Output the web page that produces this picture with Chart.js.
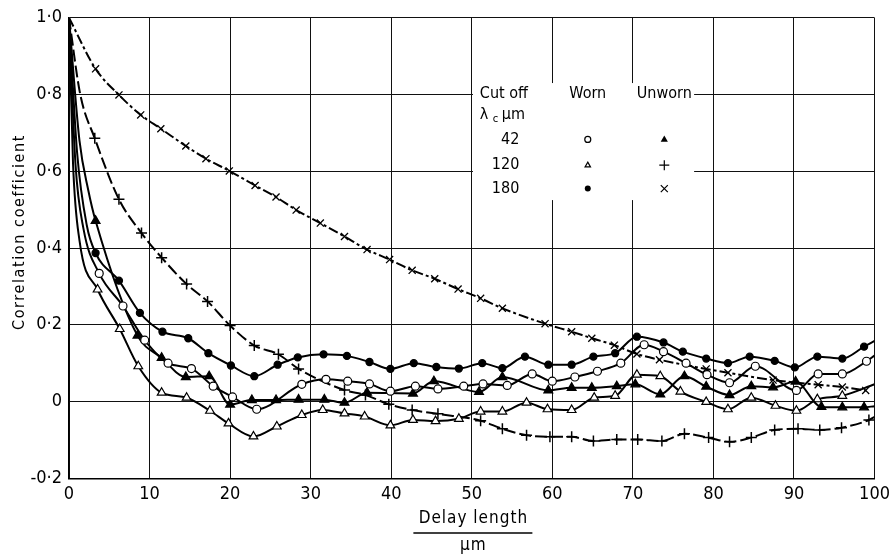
<!DOCTYPE html>
<html>
<head>
<meta charset="utf-8">
<script src="https://cdn.jsdelivr.net/npm/chart.js@4.4.0/dist/chart.umd.min.js"></script>
<style>
  html, body { margin: 0; padding: 0; background: #fff; }
  #wrap { width: 895px; height: 555px; }
</style>
</head>
<body>
<div id="wrap"><canvas id="corrChart" width="895" height="555"></canvas></div>
<script>
// marked points (delay length in um, correlation coefficient)
const worn42X = [3.75, 6.7, 9.4, 12.3, 15.2, 17.9, 20.3, 23.3, 28.9, 31.9, 34.6, 37.3, 39.9, 43.0, 45.8, 49.0, 51.4, 54.4, 57.5, 60.0, 62.8, 65.6, 68.5, 71.4, 73.8, 76.6, 79.2, 82.0, 85.2, 90.3, 93.0, 96.0, 99.0];
const worn42Y = [0.334, 0.249, 0.160, 0.100, 0.086, 0.040, 0.012, -0.020, 0.045, 0.058, 0.053, 0.046, 0.027, 0.040, 0.033, 0.040, 0.046, 0.042, 0.072, 0.053, 0.064, 0.079, 0.100, 0.148, 0.130, 0.100, 0.070, 0.049, 0.092, 0.029, 0.072, 0.072, 0.105];

const unworn42X = [3.3, 8.5, 11.5, 14.5, 17.4, 20.0, 22.7, 25.7, 28.5, 31.7, 34.2, 37.0, 42.7, 45.3, 50.9, 53.8, 59.5, 62.4, 64.9, 68.0, 70.3, 73.4, 76.4, 79.1, 82.0, 84.7, 87.4, 90.2, 93.4, 96.0, 98.7];
const unworn42Y = [0.471, 0.172, 0.114, 0.064, 0.066, -0.008, 0.004, 0.004, 0.005, 0.005, -0.003, 0.023, 0.021, 0.053, 0.025, 0.064, 0.029, 0.036, 0.036, 0.040, 0.045, 0.019, 0.066, 0.039, 0.017, 0.040, 0.037, 0.052, -0.014, -0.015, -0.015];

const worn120X = [3.55, 6.3, 8.6, 11.5, 14.6, 17.5, 19.8, 22.9, 25.8, 28.9, 31.5, 34.2, 36.7, 39.9, 42.7, 45.5, 48.4, 51.1, 53.8, 56.8, 59.4, 62.4, 65.2, 67.8, 70.5, 73.4, 75.9, 79.1, 81.8, 84.7, 87.7, 90.3, 92.9, 96.0];
const worn120Y = [0.292, 0.189, 0.092, 0.023, 0.010, -0.024, -0.057, -0.091, -0.065, -0.035, -0.022, -0.031, -0.039, -0.062, -0.048, -0.051, -0.045, -0.026, -0.026, -0.003, -0.020, -0.022, 0.010, 0.015, 0.070, 0.066, 0.026, -0.001, -0.020, 0.010, -0.011, -0.024, 0.006, 0.015];

const unworn120X = [3.2, 6.2, 9.0, 11.5, 14.6, 17.2, 20.0, 23.0, 26.0, 28.5, 34.2, 36.8, 39.7, 42.6, 45.8, 51.1, 53.8, 56.8, 59.7, 62.4, 65.1, 68.0, 70.6, 73.6, 76.4, 79.4, 82.0, 84.7, 87.6, 90.5, 93.2, 95.9, 99.3];
const unworn120Y = [0.686, 0.527, 0.439, 0.375, 0.306, 0.261, 0.198, 0.146, 0.123, 0.085, 0.030, 0.017, -0.007, -0.022, -0.032, -0.050, -0.071, -0.088, -0.092, -0.092, -0.103, -0.099, -0.099, -0.103, -0.084, -0.094, -0.105, -0.094, -0.074, -0.071, -0.074, -0.068, -0.048];

const worn180X = [3.3, 6.2, 8.8, 11.6, 14.8, 17.3, 20.1, 23.0, 25.9, 28.4, 31.6, 34.5, 37.3, 39.9, 42.8, 45.6, 48.4, 51.3, 53.8, 56.6, 59.5, 62.4, 65.1, 67.8, 70.5, 73.8, 76.2, 79.1, 81.8, 84.5, 87.6, 90.1, 92.9, 96.0, 98.7];
const worn180Y = [0.387, 0.315, 0.231, 0.182, 0.165, 0.126, 0.094, 0.066, 0.096, 0.115, 0.123, 0.119, 0.103, 0.085, 0.100, 0.090, 0.086, 0.100, 0.087, 0.117, 0.096, 0.096, 0.117, 0.126, 0.169, 0.154, 0.130, 0.112, 0.100, 0.117, 0.106, 0.089, 0.117, 0.112, 0.143];

const unworn180X = [3.3, 6.2, 8.9, 11.4, 14.5, 17.0, 19.9, 23.1, 25.7, 28.2, 31.2, 34.2, 37.0, 39.8, 42.6, 45.4, 48.3, 51.1, 53.8, 59.1, 62.4, 64.9, 67.7, 70.5, 73.3, 79.1, 81.8, 87.4, 93.0, 96.0, 98.9];
const unworn180Y = [0.867, 0.799, 0.747, 0.711, 0.666, 0.633, 0.601, 0.563, 0.533, 0.499, 0.465, 0.430, 0.396, 0.370, 0.342, 0.320, 0.293, 0.269, 0.243, 0.203, 0.182, 0.165, 0.147, 0.124, 0.109, 0.085, 0.075, 0.056, 0.044, 0.038, 0.029];

// unmarked points (common start at 1.0, steep initial drop, right edge)
const worn42TraceX = [0, 0.8, 1.8, 100];
const worn42TraceY = [1.0, 0.62, 0.45, 0.12];
const unworn42TraceX = [0, 1.3, 2.4, 100];
const unworn42TraceY = [1.0, 0.68, 0.55, -0.012];
const worn120TraceX = [0, 0.5, 1.3, 100];
const worn120TraceY = [1.0, 0.62, 0.42, 0.045];
const unworn120TraceX = [0, 1.4, 100];
const unworn120TraceY = [1.0, 0.80, -0.04];
const worn180TraceX = [0, 1.0, 2.2, 100];
const worn180TraceY = [1.0, 0.65, 0.46, 0.158];
const unworn180TraceX = [0];
const unworn180TraceY = [1.0];

const cutOffs = ['42', '120', '180'];
const yTicks = [-0.2, 0, 0.2, 0.4, 0.6, 0.8, 1.0];

const TICK_FONT = '"Liberation Sans Narrow", "DejaVu Sans Condensed", "Liberation Sans", sans-serif';

function pts(xs, ys, tx, ty) {
    const out = xs.map((x, i) => ({ x: x, y: ys[i], m: true }));
    tx.forEach((x, i) => out.push({ x: x, y: ty[i], m: false }));
    out.sort((a, b) => a.x - b.x);
    return out;
}

function series(label, data, style, filled, r, dash, bw) {
    return {
        label: label,
        data: data,
        borderColor: '#000',
        borderWidth: 2,
        borderDash: dash || [],
        cubicInterpolationMode: 'monotone',
        pointStyle: style,
        pointBackgroundColor: filled ? '#000' : '#fff',
        pointBorderColor: '#000',
        pointBorderWidth: bw || 1.3,
        pointRadius: ctx => (ctx.raw && ctx.raw.m ? r : 0),
        pointHoverRadius: ctx => (ctx.raw && ctx.raw.m ? r : 0),
        fill: false
    };
}

// little marker shapes for the key table
function mark(ctx, kind, x, y, r) {
    ctx.save();
    ctx.strokeStyle = '#000';
    ctx.fillStyle = '#000';
    ctx.lineWidth = 1.2;
    ctx.beginPath();
    if (kind === 'circleOpen' || kind === 'circleFill') {
        ctx.arc(x, y, r, 0, Math.PI * 2);
        if (kind === 'circleFill') ctx.fill(); else ctx.stroke();
    } else if (kind === 'triOpen' || kind === 'triFill') {
        ctx.moveTo(x, y - r);
        ctx.lineTo(x + r * 0.9, y + r * 0.6);
        ctx.lineTo(x - r * 0.9, y + r * 0.6);
        ctx.closePath();
        if (kind === 'triFill') ctx.fill(); else ctx.stroke();
    } else if (kind === 'plus') {
        ctx.moveTo(x - r, y); ctx.lineTo(x + r, y);
        ctx.moveTo(x, y - r); ctx.lineTo(x, y + r);
        ctx.stroke();
    } else if (kind === 'cross') {
        ctx.moveTo(x - r * 0.7, y - r * 0.7); ctx.lineTo(x + r * 0.7, y + r * 0.7);
        ctx.moveTo(x + r * 0.7, y - r * 0.7); ctx.lineTo(x - r * 0.7, y + r * 0.7);
        ctx.stroke();
    }
    ctx.restore();
}

const keyTable = {
    id: 'keyTable',
    beforeDatasetsDraw(chart) {
        const ctx = chart.ctx;
        const xs = chart.scales.x, ys = chart.scales.y;
        const left = xs.getPixelForValue(50.15), right = xs.getPixelForValue(77.6);
        const top = ys.getPixelForValue(0.83), bottom = ys.getPixelForValue(0.525);
        ctx.save();
        ctx.fillStyle = '#fff';
        ctx.fillRect(left, top, right - left, bottom - top);
        ctx.fillStyle = '#000';
        ctx.textBaseline = 'middle';
        ctx.font = '16px ' + TICK_FONT;
        const colText = xs.getPixelForValue(51.0);
        const colWorn = xs.getPixelForValue(64.4);
        const colUnworn = xs.getPixelForValue(73.9);
        const rowHead = ys.getPixelForValue(0.801);
        ctx.textAlign = 'left';
        ctx.fillText('Cut off', colText, rowHead);
        const row2 = ys.getPixelForValue(0.747);
        ctx.fillText('λ', colText, row2);
        ctx.font = '11px ' + TICK_FONT;
        ctx.fillText('c', colText + 13, row2 + 4);
        ctx.font = '16px ' + TICK_FONT;
        ctx.fillText('μm', colText + 22, row2);
        ctx.textAlign = 'center';
        ctx.fillText('Worn', colWorn, rowHead);
        ctx.fillText('Unworn', colUnworn, rowHead);
        const rows = [0.683, 0.616, 0.555];
        const wornMarks = ['circleOpen', 'triOpen', 'circleFill'];
        const unwornMarks = ['triFill', 'plus', 'cross'];
        ctx.textAlign = 'right';
        rows.forEach((v, i) => {
            const y = ys.getPixelForValue(v);
            ctx.fillText(cutOffs[i], xs.getPixelForValue(55.9), y);
            mark(ctx, wornMarks[i], colWorn, y, 3);
            mark(ctx, unwornMarks[i], colUnworn, y, i === 0 ? 4 : 5);
        });
        ctx.restore();
    },
    afterDraw(chart) {
        const ctx = chart.ctx;
        const area = chart.chartArea;
        ctx.save();
        ctx.fillStyle = '#000';
        // y axis title
        ctx.translate(20, 232);
        ctx.rotate(-Math.PI / 2);
        ctx.font = '16px ' + TICK_FONT;
        ctx.letterSpacing = '1.6px';
        ctx.textAlign = 'center';
        ctx.textBaseline = 'middle';
        ctx.fillText('Correlation coefficient', 0, 0);
        ctx.restore();
        // x axis title as a fraction
        ctx.save();
        ctx.fillStyle = '#000';
        ctx.strokeStyle = '#000';
        ctx.font = '17px ' + TICK_FONT;
        ctx.letterSpacing = '1px';
        ctx.textAlign = 'center';
        ctx.textBaseline = 'middle';
        const cx = chart.scales.x.getPixelForValue(50.2);
        ctx.fillText('Delay length', cx, 519);
        ctx.lineWidth = 1.6;
        ctx.beginPath();
        ctx.moveTo(cx - 60, 533);
        ctx.lineTo(cx + 59, 533);
        ctx.stroke();
        ctx.fillText('μm', cx, 546);
        ctx.restore();
    }
};

const ctx = document.getElementById('corrChart').getContext('2d');
const myCorrChart = new Chart(ctx, {
    type: 'line',
    data: {
        datasets: [
            series('Worn 42', pts(worn42X, worn42Y, worn42TraceX, worn42TraceY), 'circle', false, 4, null, 1.2),
            series('Unworn 42', pts(unworn42X, unworn42Y, unworn42TraceX, unworn42TraceY), 'triangle', true, 5),
            series('Worn 120', pts(worn120X, worn120Y, worn120TraceX, worn120TraceY), 'triangle', false, 5, null, 1.2),
            series('Unworn 120', pts(unworn120X, unworn120Y, unworn120TraceX, unworn120TraceY), 'cross', false, 5.5, [12, 4], 1.5),
            series('Worn 180', pts(worn180X, worn180Y, worn180TraceX, worn180TraceY), 'circle', true, 3.5),
            series('Unworn 180', pts(unworn180X, unworn180Y, unworn180TraceX, unworn180TraceY), 'crossRot', false, 5, [10, 3, 3, 3], 1.3)
        ]
    },
    options: {
        responsive: false,
        animation: false,
        devicePixelRatio: 1,
        layout: { padding: { top: 15.7, right: 18, left: 0, bottom: 0 } },
        plugins: {
            legend: { display: false },
            tooltip: { enabled: false }
        },
        scales: {
            x: {
                type: 'linear',
                min: 0,
                max: 100,
                afterFit: s => { s.height = 76.7; },
                ticks: {
                    stepSize: 10,
                    color: '#000',
                    padding: 5,
                    font: { family: TICK_FONT, size: 18 }
                },
                grid: { color: '#111', lineWidth: 1, drawTicks: false },
                border: { color: '#000', width: 1.5 }
            },
            y: {
                type: 'linear',
                min: -0.2,
                max: 1.0,
                afterFit: s => { s.width = 69; },
                afterBuildTicks: s => { s.ticks = yTicks.map(v => ({ value: v })); },
                ticks: {
                    color: '#000',
                    padding: 7,
                    font: { family: TICK_FONT, size: 18 },
                    callback: v => {
                        const r = Math.round(v * 10) / 10;
                        if (r === 0) return '0';
                        return (r < 0 ? '-' : '') + Math.abs(r).toFixed(1).replace('.', '·');
                    }
                },
                grid: { color: '#111', lineWidth: 1, drawTicks: false },
                border: { color: '#000', width: 1.5 }
            }
        }
    },
    plugins: [keyTable]
});
</script>
</body>
</html>
